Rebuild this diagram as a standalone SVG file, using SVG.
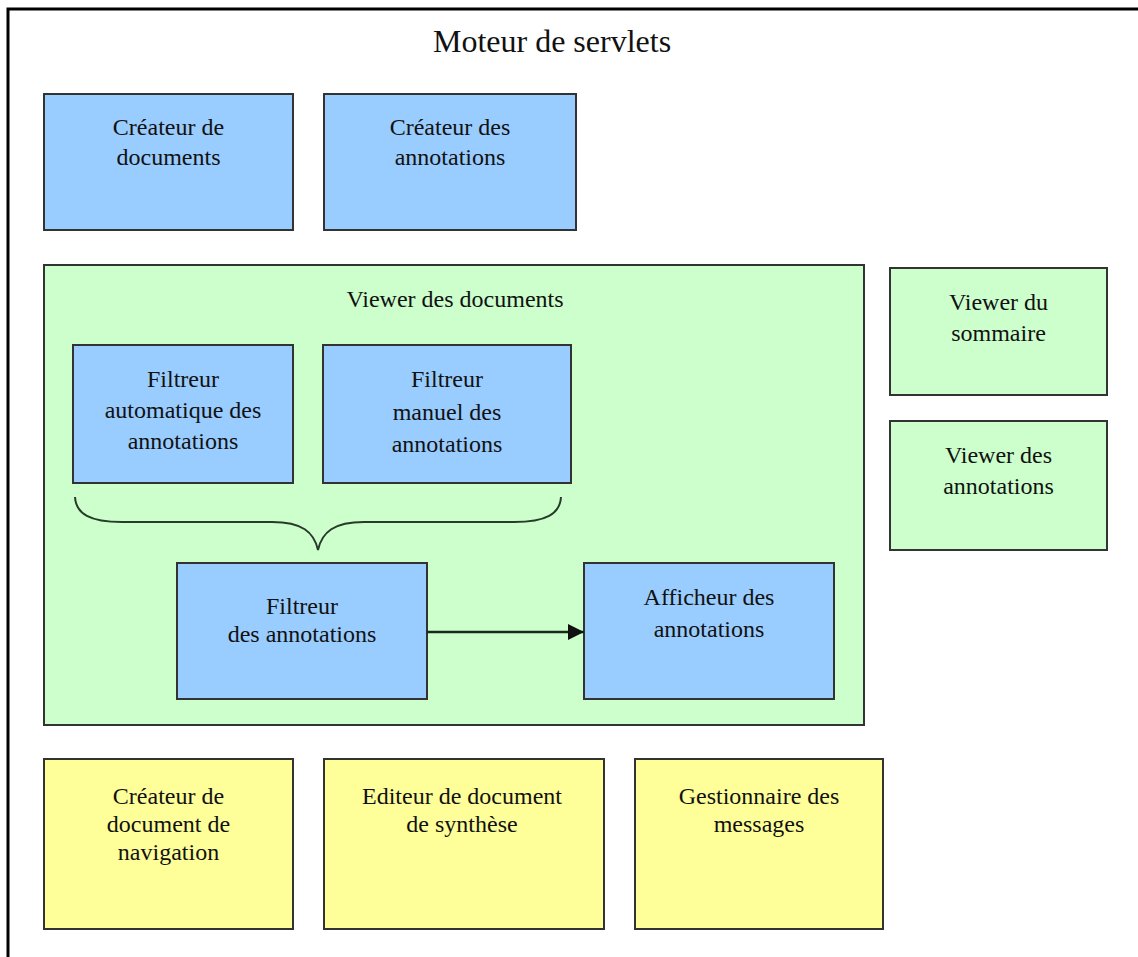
<svg xmlns="http://www.w3.org/2000/svg" width="1138" height="957" viewBox="0 0 1138 957">
<defs>
<style>
.t{font-family:"Liberation Serif","Times New Roman",serif;font-size:24px;fill:#111;text-anchor:middle}
.blue{fill:#99ccff;stroke:#333;stroke-width:2}
.green{fill:#ccffcc;stroke:#333;stroke-width:2}
.yellow{fill:#ffff99;stroke:#333;stroke-width:2}
.conn{stroke:#1a2a1a;stroke-width:2.5;fill:none}
</style>
<marker id="ah" markerWidth="16" markerHeight="16" refX="16" refY="8" orient="auto" markerUnits="userSpaceOnUse"><path d="M0,0 L16,8 L0,16 Z" fill="#111"/></marker>
</defs>
<rect x="0" y="0" width="1138" height="957" fill="#fff"/>
<g id="moteur">
<path d="M8,957 V9 H1138" fill="none" stroke="#000" stroke-width="3"/>
<text class="t" x="552" y="52" style="font-size:32px">Moteur de servlets</text>
</g>
<g id="createur-documents">
<rect class="blue" x="44" y="94" width="249" height="136"/>
<text class="t" x="168.5" y="135">Créateur de</text>
<text class="t" x="168.5" y="165">documents</text>
</g>
<g id="createur-annotations">
<rect class="blue" x="324" y="94" width="252" height="136"/>
<text class="t" x="450" y="135">Créateur des</text>
<text class="t" x="450" y="165">annotations</text>
</g>
<g id="viewer-documents">
<rect class="green" x="44" y="265" width="820" height="460"/>
<text class="t" x="455" y="307">Viewer des documents</text>
</g>
<g id="filtreur-auto">
<rect class="blue" x="73" y="345" width="220" height="138"/>
<text class="t" x="183" y="387">Filtreur</text>
<text class="t" x="183" y="418">automatique des</text>
<text class="t" x="183" y="449">annotations</text>
</g>
<g id="filtreur-manuel">
<rect class="blue" x="323" y="345" width="248" height="138"/>
<text class="t" x="447" y="387">Filtreur</text>
<text class="t" x="447" y="420">manuel des</text>
<text class="t" x="447" y="452">annotations</text>
</g>
<g id="accolade">
<path d="M75,497 C76,514 90,522 122,522 L272,522 C302,522 314,532 318,550 C322,532 334,522 364,522 L514,522 C546,522 560,514 561,497" fill="none" stroke="#2a3a2a" stroke-width="2"/>
</g>
<g id="filtreur-annotations">
<rect class="blue" x="177" y="563" width="250" height="136"/>
<text class="t" x="302" y="614">Filtreur</text>
<text class="t" x="302" y="642">des annotations</text>
</g>
<g id="afficheur-annotations">
<rect class="blue" x="584" y="563" width="250" height="136"/>
<text class="t" x="709" y="605">Afficheur des</text>
<text class="t" x="709" y="637">annotations</text>
</g>
<g id="viewer-sommaire">
<rect class="green" x="890" y="268" width="217" height="127"/>
<text class="t" x="998.5" y="310">Viewer du</text>
<text class="t" x="998.5" y="341">sommaire</text>
</g>
<g id="viewer-annotations">
<rect class="green" x="890" y="421" width="217" height="129"/>
<text class="t" x="998.5" y="463">Viewer des</text>
<text class="t" x="998.5" y="494">annotations</text>
</g>
<g id="createur-navigation">
<rect class="yellow" x="44" y="759" width="249" height="170"/>
<text class="t" x="168.5" y="804">Créateur de</text>
<text class="t" x="168.5" y="832">document de</text>
<text class="t" x="168.5" y="860">navigation</text>
</g>
<g id="editeur-synthese">
<rect class="yellow" x="324" y="759" width="280" height="170"/>
<text class="t" x="462" y="804">Editeur de document</text>
<text class="t" x="462" y="832">de synthèse</text>
</g>
<g id="gestionnaire-messages">
<rect class="yellow" x="635" y="759" width="248" height="170"/>
<text class="t" x="759" y="804">Gestionnaire des</text>
<text class="t" x="759" y="832">messages</text>
</g>
<g id="connecteurs">
<line class="conn" x1="427" y1="632" x2="584" y2="632" marker-end="url(#ah)"/>
</g>
</svg>
